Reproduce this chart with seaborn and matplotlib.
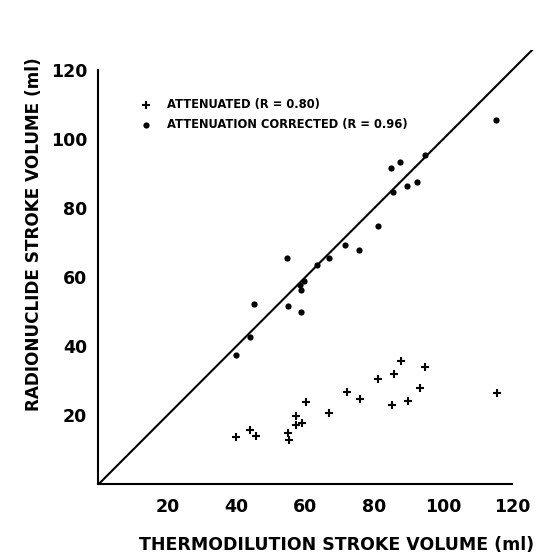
import matplotlib
matplotlib.use("Agg")
import matplotlib.pyplot as plt
import seaborn as sns
import pandas as pd

# Attenuation corrected (circles)
corr_x = [115.4, 94.8, 84.9, 87.6, 85.6, 89.6, 92.5, 81.0, 71.6, 75.6,
          66.8, 54.8, 59.8, 58.5, 58.7, 55.0, 45.1, 58.7, 44.0, 39.8, 63.4]
corr_y = [105.7, 95.5, 91.7, 93.5, 84.6, 86.4, 87.6, 74.9, 69.5, 67.8,
          65.6, 65.5, 58.8, 57.7, 56.3, 51.8, 52.4, 49.8, 42.8, 37.5, 63.6]

# Attenuated (pluses)
att_x = [115.8, 94.9, 87.9, 85.9, 81.2, 93.2, 89.9, 85.1, 72.2, 76.0,
         67.0, 60.1, 57.4, 57.2, 59.2, 55.1, 55.2, 44.0, 45.6, 39.8]
att_y = [26.6, 33.9, 35.6, 32.0, 30.5, 27.8, 24.1, 23.0, 26.9, 24.8,
         20.6, 23.8, 19.8, 17.1, 17.9, 15.0, 12.7, 15.8, 14.1, 13.6]

label_att = "ATTENUATED (R = 0.80)"
label_corr = "ATTENUATION CORRECTED (R = 0.96)"
ticks = [20, 40, 60, 80, 100, 120]
xlabel = "THERMODILUTION STROKE VOLUME (ml)"
ylabel = "RADIONUCLIDE STROKE VOLUME (ml)"

df_att = pd.DataFrame({"x": att_x, "y": att_y})
df_corr = pd.DataFrame({"x": corr_x, "y": corr_y})

sns.set_style("white")
plt.rcParams["font.family"] = ["DejaVu Sans"]
plt.rcParams["text.color"] = "black"
plt.rcParams["axes.labelcolor"] = "black"

fig = plt.figure(figsize=(5.47, 5.59), dpi=100)
ax = fig.add_axes([0.18, 0.1336, 0.8188, 0.7777])

sns.scatterplot(data=df_att, x="x", y="y", marker="+", color="black",
                s=30, linewidth=1.5, ax=ax, label=label_att)
sns.scatterplot(data=df_corr, x="x", y="y", marker="o", color="black",
                s=20, linewidth=0, ax=ax, label=label_corr)

ax.plot([0, 140], [0, 140], color="black", linewidth=1.5, zorder=1)

ax.set_xlim(0, 130)
ax.set_ylim(0, 126)
ax.set_xticks(ticks)
ax.set_yticks(ticks)
ax.set_xticklabels([str(t) for t in ticks], fontsize=12.5, fontweight="bold")
ax.set_yticklabels([str(t) for t in ticks], fontsize=12.5, fontweight="bold")
ax.tick_params(axis="both", direction="out", length=5, width=1.5, color="black",
               pad=3, labelcolor="black")
ax.tick_params(axis="x", pad=5)

for side in ["top", "right"]:
    ax.spines[side].set_visible(False)
for side in ["left", "bottom"]:
    ax.spines[side].set_color("black")
    ax.spines[side].set_linewidth(1.5)
ax.spines["left"].set_bounds(0, 120)
ax.spines["bottom"].set_bounds(0, 120)

ax.set_xlabel(xlabel, fontsize=12.5, fontweight="bold", color="black")
ax.set_ylabel(ylabel, fontsize=12.2, fontweight="bold", color="black")
ax.xaxis.set_label_coords((336.7 - 98.4) / 447.9, -(545 - 484.3) / 434.7)
ax.yaxis.set_label_coords(-(98.4 - 34) / 447.9, (484.3 - 234) / 434.7)
ax.xaxis.label.set_verticalalignment("center")
ax.yaxis.label.set_verticalalignment("center")

leg = ax.legend(loc="upper left", bbox_to_anchor=(0.0947, 0.888), frameon=False,
                fontsize=8.3, handlelength=0.9, handletextpad=1.4,
                labelspacing=0.6, borderpad=0, borderaxespad=0)
for t in leg.get_texts():
    t.set_fontweight("bold")
    t.set_color("black")

fig.savefig("out.png", dpi=100)
